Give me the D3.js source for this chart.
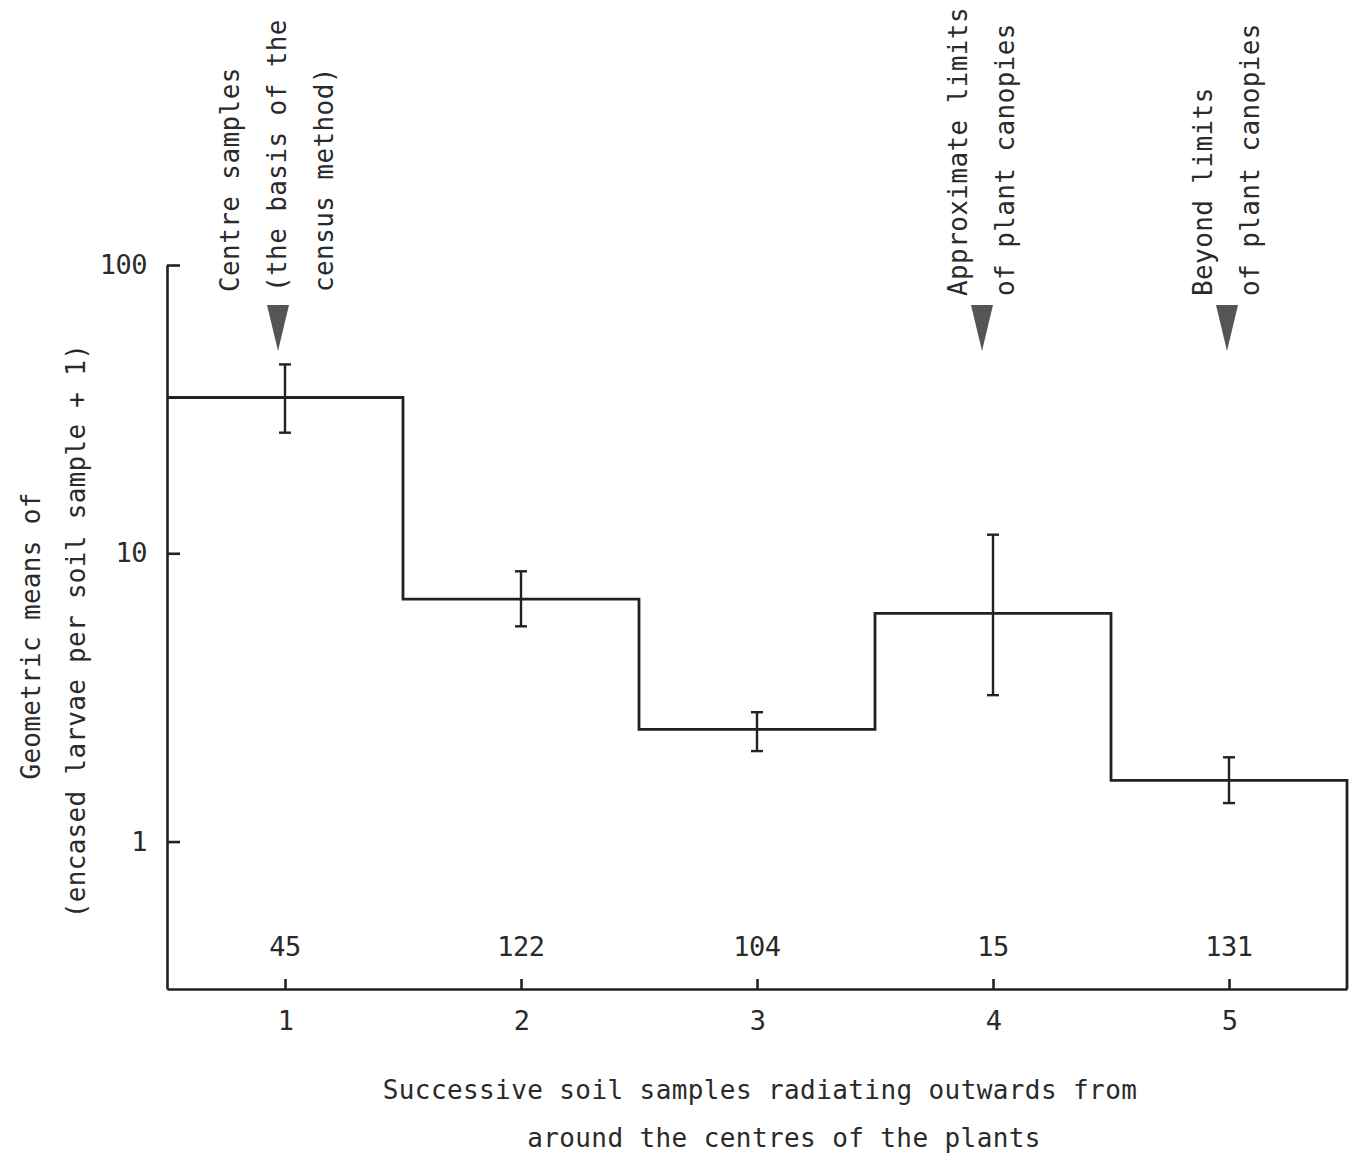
<!DOCTYPE html>
<html>
<head>
<meta charset="utf-8">
<script src="https://cdn.jsdelivr.net/npm/d3@7"></script>
<style>
  body { margin: 0; background: #fff; }
  svg text { font-family: "DejaVu Sans Mono", monospace; fill: #2a2a2a; }
  .axis path, .axis line { stroke: #222; stroke-width: 2.6; }
  .axis text { font-size: 27px; letter-spacing: -0.5px; }
</style>
</head>
<body>
<svg id="svg-chart" width="1355" height="1155"></svg>
<script>
// sample positions 1..5 radiating outwards from the plant centres
const samples = [1, 2, 3, 4, 5];
// geometric means of (encased larvae per soil sample + 1)
const means = [34.7, 6.93, 2.45, 6.19, 1.63];
const errLow = [26.2, 5.58, 2.06, 3.22, 1.36];
const errHigh = [45.2, 8.66, 2.81, 11.6, 1.96];
// number of soil samples per position
const counts = [45, 122, 104, 15, 131];
const yTicks = [1, 10, 100];
const notes = [
  { sample: 1, lines: ["Centre samples", "(the basis of the", "census method)"] },
  { sample: 4, lines: ["Approximate limits", "of plant canopies"] },
  { sample: 5, lines: ["Beyond limits", "of plant canopies"] }
];

const svg = d3.select('#svg-chart');

const plotL = 167, plotR = 1347, plotT = 265, plotB = 989;

const xScale = d3.scaleLinear()
  .domain([0.5, 5.5])
  .range([plotL, plotR]);

const yScale = d3.scaleLog()
  .domain([0.308, 100])
  .range([plotB, plotT]);

const data = samples.map((s, i) => ({
  s: s, mean: means[i], lo: errLow[i], hi: errHigh[i], n: counts[i]
}));

// axes
svg.append('g')
  .attr('class', 'axis')
  .attr('transform', `translate(${plotL}, 0)`)
  .call(d3.axisLeft(yScale)
    .tickValues(yTicks)
    .tickFormat(d3.format('d'))
    .tickSize(-13)
    .tickSizeOuter(0)
    .tickPadding(20));

svg.append('g')
  .attr('class', 'axis')
  .attr('transform', `translate(0, ${plotB})`)
  .call(d3.axisBottom(xScale)
    .tickValues(samples)
    .tickFormat(d3.format('d'))
    .tickSize(-10)
    .tickSizeOuter(0)
    .tickPadding(22));

// step outline of the means
const stepPts = [];
data.forEach((d) => {
  stepPts.push([xScale(d.s - 0.5), yScale(d.mean)]);
  stepPts.push([xScale(d.s + 0.5), yScale(d.mean)]);
});
stepPts.push([xScale(5.5), yScale.range()[0]]);

svg.append('path')
  .attr('d', d3.line()(stepPts))
  .attr('fill', 'none')
  .attr('stroke', '#222')
  .attr('stroke-width', 2.8);

// error bars
const errG = svg.selectAll('.err')
  .data(data)
  .enter()
  .append('g')
  .attr('class', 'err')
  .attr('stroke', '#222')
  .attr('stroke-width', 2.4);

errG.append('line')
  .attr('x1', (d) => xScale(d.s)).attr('x2', (d) => xScale(d.s))
  .attr('y1', (d) => yScale(d.lo)).attr('y2', (d) => yScale(d.hi));
errG.append('line')
  .attr('x1', (d) => xScale(d.s) - 6).attr('x2', (d) => xScale(d.s) + 6)
  .attr('y1', (d) => yScale(d.hi)).attr('y2', (d) => yScale(d.hi));
errG.append('line')
  .attr('x1', (d) => xScale(d.s) - 6).attr('x2', (d) => xScale(d.s) + 6)
  .attr('y1', (d) => yScale(d.lo)).attr('y2', (d) => yScale(d.lo));

// sample counts
svg.selectAll('.count')
  .data(data)
  .enter()
  .append('text')
  .attr('class', 'count')
  .attr('x', (d) => xScale(d.s))
  .attr('y', 956)
  .attr('text-anchor', 'middle')
  .style('font-size', '27px')
  .style('letter-spacing', '-0.5px')
  .text((d) => d.n);

// annotations with arrows
const noteX = (d) => xScale(d.sample) - (d.sample === 1 ? 7 : d.sample === 4 ? 11 : 2);

const noteG = svg.selectAll('.note')
  .data(notes)
  .enter()
  .append('g')
  .attr('class', 'note');

noteG.append('path')
  .attr('d', (d) => {
    const cx = noteX(d);
    return `M${cx - 11},305 L${cx + 11},305 L${cx},351 Z`;
  })
  .attr('fill', '#555');

noteG.each(function(d) {
  const g = d3.select(this);
  const cx = noteX(d);
  const n = d.lines.length;
  const base = d.sample === 1 ? 292 : 296;
  d.lines.forEach((t, i) => {
    const x = cx + (i - (n - 1) / 2) * 47 + 8;
    g.append('text')
      .attr('transform', `translate(${x}, ${base}) rotate(-90)`)
      .attr('text-anchor', 'start')
      .style('font-size', '26px')
      .style('letter-spacing', '0.4px')
      .text(t);
  });
});

// y axis title
svg.append('text')
  .attr('transform', 'translate(40, 636) rotate(-90)')
  .attr('text-anchor', 'middle')
  .style('font-size', '26px')
  .style('letter-spacing', '0.3px')
  .text('Geometric means of');

svg.append('text')
  .attr('transform', 'translate(85, 631) rotate(-90)')
  .attr('text-anchor', 'middle')
  .style('font-size', '26px')
  .style('letter-spacing', '0.3px')
  .text('(encased larvae per soil sample + 1)');

// x axis title
svg.append('text')
  .attr('x', 760)
  .attr('y', 1099)
  .attr('text-anchor', 'middle')
  .style('font-size', '26px')
  .style('letter-spacing', '0.4px')
  .text('Successive soil samples radiating outwards from');

svg.append('text')
  .attr('x', 784)
  .attr('y', 1147)
  .attr('text-anchor', 'middle')
  .style('font-size', '26px')
  .style('letter-spacing', '0.4px')
  .text('around the centres of the plants');
</script>
</body>
</html>
